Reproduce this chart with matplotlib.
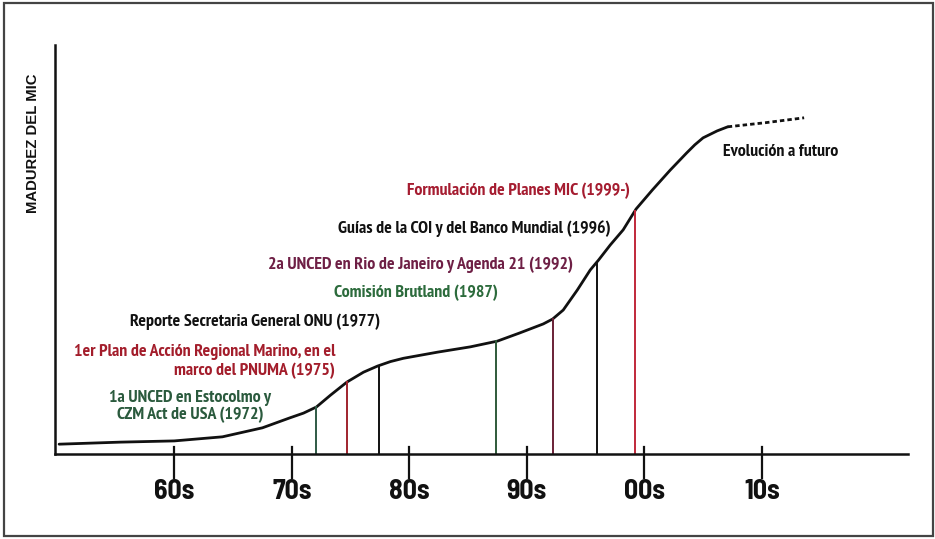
import numpy as np
import matplotlib
matplotlib.use("Agg")
import matplotlib.pyplot as plt
from matplotlib.patches import Rectangle

# ---- data ----
curve_years = [1950.2, 1955.4, 1960.0, 1964.1, 1967.5, 1969.8, 1971.0, 1972.1, 1973.3,
               1974.7, 1976.1, 1977.3, 1978.4, 1979.5, 1982.4, 1985.2, 1987.5, 1989.4,
               1991.4, 1992.2, 1993.1, 1994.3, 1995.4, 1996.1, 1997.1, 1998.2,
               1999.3, 2000.7, 2002.2, 2003.6, 2004.3, 2005.0, 2006.2, 2007.1]
curve_values = [2.4, 2.9, 3.2, 4.2, 6.4, 8.8, 10.0, 11.5, 14.4,
                17.6, 20.0, 21.5, 22.6, 23.4, 24.9, 26.2, 27.6, 29.6,
                31.8, 33.0, 35.2, 40.1, 45.0, 47.4, 51.1, 54.8,
                59.9, 64.6, 69.4, 73.6, 75.6, 77.3, 79.0, 80.0]
future_years = [2007.1, 2010.3, 2013.6]
future_values = [80.0, 81.0, 82.2]

event_years = [1972.1, 1974.7, 1977.4, 1987.4, 1992.2, 1996.0, 1999.2]
event_colors = ["#2f5a45", "#a0242e", "#111111", "#2f5a3a", "#6a2036", "#111111", "#c0283a"]

tick_years = [1960, 1970, 1980, 1990, 2000, 2010]
tick_labels = ["60s", "70s", "80s", "90s", "00s", "10s"]

ylabel_text = "MADUREZ DEL MIC"

labels = [
    ("Formulación de Planes MIC (1999-)", 1998.8, 64.2, "right", "#a51c30"),
    ("Guías de la COI y del Banco Mundial (1996)", 1997.1, 55.0, "right", "#111111"),
    ("2a UNCED en Rio de Janeiro y Agenda 21 (1992)", 1993.9, 46.2, "right", "#6e1f45"),
    ("Comisión Brutland (1987)", 1987.5, 39.4, "right", "#2c6b3c"),
    ("Reporte Secretaria General ONU (1977)", 1977.5, 32.3, "right", "#111111"),
    ("1er Plan de Acción Regional Marino, en el\nmarco del PNUMA (1975)", 1973.7, 22.6, "right", "#a31d2b"),
    ("1a UNCED en Estocolmo y\nCZM Act de USA (1972)", 1961.35, 11.6, "center", "#2a5a3d"),
    ("Evolución a futuro", 2006.7, 73.8, "left", "#111111"),
]
label_spacing = [1.2, 1.2, 1.2, 1.2, 1.2, 1.22, 1.1, 1.2]

TXT_FONT = ["Liberation Sans Narrow", "PT Sans Narrow", "Archivo Narrow",
            "Barlow Semi Condensed", "DejaVu Sans"]
TICK_FONT = ["Barlow Semi Condensed", "Lato", "DejaVu Sans"]
YLAB_FONT = ["Liberation Sans", "DejaVu Sans"]

fig = plt.figure(figsize=(9.35, 5.39), dpi=100)
fig.patch.set_facecolor("white")
W, H = 935, 539

# outer frame
fig.patches.append(Rectangle((4 / W, 3 / H), 929 / W, 533 / H, transform=fig.transFigure,
                             fill=False, edgecolor="#444444", linewidth=1.6))

ax = fig.add_axes([55 / W, (H - 454) / H, 853 / W, 409 / H])
ax.set_xlim(1949.85, 2022.44)
ax.set_ylim(0, 100)
for s in ["top", "right"]:
    ax.spines[s].set_visible(False)
for s in ["left", "bottom"]:
    ax.spines[s].set_linewidth(1.8)
    ax.spines[s].set_color("#111111")
ax.set_xticks([])
ax.set_yticks([])

# curve
ax.plot(curve_years, curve_values, color="#111111", lw=2.0, solid_capstyle="round",
        solid_joinstyle="round")
ax.plot(future_years, future_values, color="#111111", lw=2.0, linestyle=(0, (1.6, 1.1)))

# event lines
tops = np.interp(event_years, curve_years, curve_values)
for xv, top, c in zip(event_years, tops, event_colors):
    ax.plot([xv, xv], [0, top], color=c, lw=1.4)

# ticks
xt = ax.get_xaxis_transform()
for xv, lab in zip(tick_years, tick_labels):
    ax.plot([xv, xv], [-0.0587, 0.0171], color="#111111", lw=1.6, transform=xt, clip_on=False)
    ax.text(xv, -0.092, lab, transform=xt, ha="center", va="center", fontsize=20,
            fontweight="bold", family=TICK_FONT, color="#111111")

# y label
fig.text(33 / W, (H - 143) / H, ylabel_text, rotation=90, ha="center", va="center",
         fontsize=10.7, fontweight="bold", family=YLAB_FONT, color="#111111")

for (txt, xv, yv, ha, c), ls in zip(labels, label_spacing):
    ax.text(xv, yv, txt, ha=ha, va="center", multialignment=ha, fontsize=12.9,
            fontweight="bold", family=TXT_FONT, color=c, linespacing=ls)

fig.savefig("out.png", dpi=100, facecolor="white")
